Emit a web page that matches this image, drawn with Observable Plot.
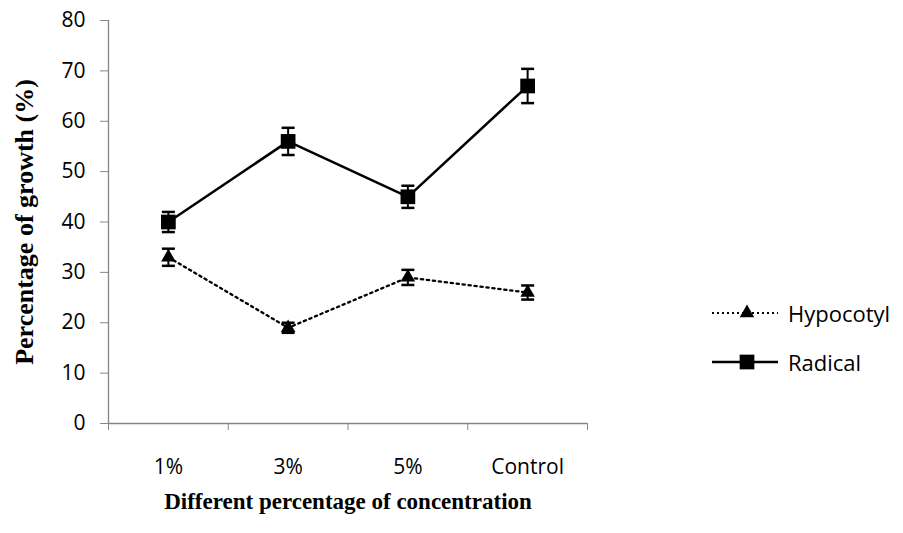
<!DOCTYPE html>
<html>
<head>
<meta charset="utf-8">
<script src="https://cdn.jsdelivr.net/npm/d3@7"></script>
<script src="https://cdn.jsdelivr.net/npm/@observablehq/plot@0.6"></script>
<style>
  html, body { margin: 0; padding: 0; background: #fff; }
  #wrap { position: relative; width: 903px; height: 533px; }
  #legend { position: absolute; left: 712px; top: 296px; font-family: "Open Sans", sans-serif; font-size: 22px; color: #000; }
  .item { display: flex; align-items: center; height: 33px; margin-bottom: 16px; }
  .item svg { margin-right: 10px; }
</style>
</head>
<body>
<div id="wrap"></div>
<script>
const categories = ["1%", "3%", "5%", "Control"];
const hypocotyl = [33, 19, 29, 26];
const hypocotylErr = [1.7, 1.0, 1.5, 1.4];
const radical = [40, 56, 45, 67];
const radicalErr = [2.0, 2.7, 2.2, 3.4];
const yTicks = [0, 10, 20, 30, 40, 50, 60, 70, 80];
const xTitle = "Different percentage of concentration";
const yTitle = "Percentage of growth (%)";

const gray = "#868686";
const rows = [];
categories.forEach((c, i) => {
  rows.push({series: "Hypocotyl", cat: c, x: i + 0.5, y: hypocotyl[i], e: hypocotylErr[i]});
  rows.push({series: "Radical", cat: c, x: i + 0.5, y: radical[i], e: radicalErr[i]});
});
const hyp = rows.filter(d => d.series === "Hypocotyl");
const rad = rows.filter(d => d.series === "Radical");

const capSymbol = {
  draw(ctx, size) {
    const r = Math.sqrt(size / Math.PI);
    ctx.moveTo(-r, 0);
    ctx.lineTo(r, 0);
  }
};

const chart = Plot.plot({
  width: 903,
  height: 533,
  marginLeft: 108,
  marginRight: 316,
  marginTop: 20,
  marginBottom: 110,
  style: {fontFamily: "Open Sans, sans-serif", fontSize: "21px", color: "#000", background: "#fff"},
  x: {type: "linear", domain: [0, categories.length]},
  y: {domain: [0, 80]},
  marks: [
    Plot.axisY({ticks: yTicks, tickSize: 8, tickPadding: 15, stroke: gray, fill: "#000", label: null}),
    Plot.axisX({ticks: d3.range(categories.length + 1), tickFormat: () => "", tickSize: 7, stroke: gray, label: null}),
    Plot.axisX({ticks: categories.map((c, i) => i + 0.5), tickFormat: d => categories[Math.floor(d)], tickSize: 0, tickPadding: 36, fill: "#000", label: null}),
    Plot.ruleX([0], {stroke: gray, strokeWidth: 1.3}),
    Plot.ruleY([0], {stroke: gray, strokeWidth: 1.3}),
    Plot.line(hyp, {x: "x", y: "y", stroke: "#000", strokeWidth: 2.3, strokeDasharray: "2.3,3.7"}),
    Plot.line(rad, {x: "x", y: "y", stroke: "#000", strokeWidth: 2.5}),
    Plot.dot(hyp, {x: "x", y: "y", symbol: "triangle", r: 5.4, fill: "#000"}),
    Plot.dot(rad, {x: "x", y: "y", symbol: "square", r: 8.3, fill: "#000"}),
    Plot.ruleX(rows, {x: "x", y1: d => d.y - d.e, y2: d => d.y + d.e, stroke: "#000", strokeWidth: 2}),
    Plot.dot(rows, {x: "x", y: d => d.y + d.e, symbol: capSymbol, r: 6.5, stroke: "#000", strokeWidth: 2.5}),
    Plot.dot(rows, {x: "x", y: d => d.y - d.e, symbol: capSymbol, r: 6.5, stroke: "#000", strokeWidth: 2.5}),
    Plot.text([xTitle], {frameAnchor: "bottom", dy: 85, fontFamily: "Liberation Serif, Times New Roman, serif", fontWeight: "bold", fontSize: 23, fill: "#000"}),
    Plot.text([yTitle], {frameAnchor: "left", textAnchor: "middle", rotate: -90, dx: -84, fontFamily: "Liberation Serif, Times New Roman, serif", fontWeight: "bold", fontSize: 26, fill: "#000"})
  ]
});

document.getElementById("wrap").appendChild(chart);

// Legend
const legend = document.createElement("div");
legend.id = "legend";
legend.innerHTML = `
  <div class="item">
    <svg width="66" height="20"><line x1="0" y1="10" x2="66" y2="10" stroke="#000" stroke-width="2" stroke-dasharray="2,3"></line>
      <path d="${d3.symbol(d3.symbolTriangle, 5.4 * 5.4 * Math.PI)()}" transform="translate(35,10)" fill="#000"></path></svg>
    <span>Hypocotyl</span>
  </div>
  <div class="item">
    <svg width="66" height="20"><line x1="0" y1="10" x2="66" y2="10" stroke="#000" stroke-width="2.5"></line>
      <path d="${d3.symbol(d3.symbolSquare, 8.3 * 8.3 * Math.PI)()}" transform="translate(35,10)" fill="#000"></path></svg>
    <span>Radical</span>
  </div>`;
document.getElementById("wrap").appendChild(legend);
</script>
</body>
</html>
